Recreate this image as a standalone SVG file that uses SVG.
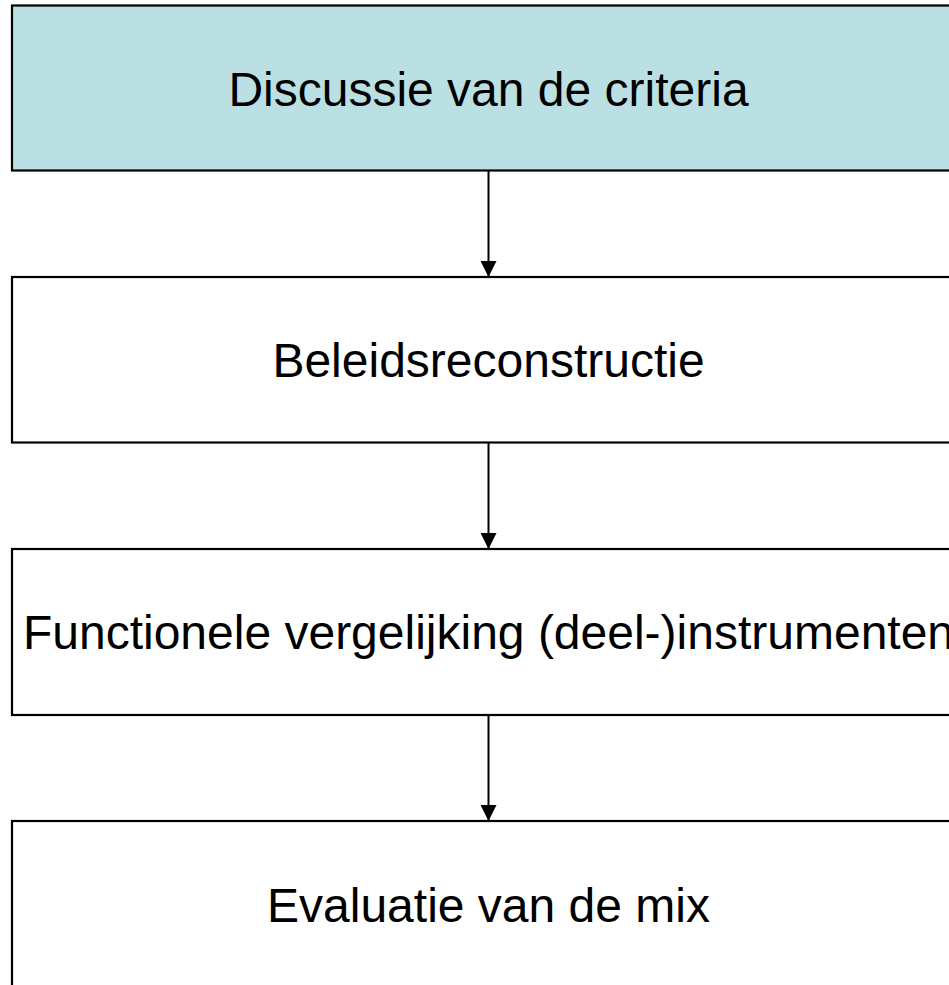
<svg xmlns="http://www.w3.org/2000/svg" width="949" height="985" viewBox="0 0 949 985">
  <style>
    .box { fill: #ffffff; stroke: #000000; stroke-width: 2.2; }
    .hl { fill: #BAE0E3; }
    .lbl { font-family: "Liberation Sans", Arial, sans-serif; font-size: 48px; fill: #000000; text-anchor: middle; }
    .conn { stroke: #000000; stroke-width: 2; fill: none; marker-end: url(#arr); }
  </style>
  <defs>
    <marker id="arr" viewBox="0 0 16 16" refX="16" refY="8" markerWidth="16" markerHeight="16" markerUnits="userSpaceOnUse" orient="auto">
      <path d="M0,0 L16,8 L0,16 Z" fill="#000000"/>
    </marker>
  </defs>
  <rect width="949" height="985" fill="#ffffff"/>
  <g id="node-criteria">
    <rect class="box hl" x="12" y="5.5" width="955" height="165"/>
    <text class="lbl" x="488.5" y="106">Discussie van de criteria</text>
  </g>
  <g id="node-beleid">
    <rect class="box" x="12" y="277" width="955" height="165.5"/>
    <text class="lbl" x="488.5" y="377">Beleidsreconstructie</text>
  </g>
  <g id="node-functioneel">
    <rect class="box" x="12" y="549" width="955" height="166"/>
    <text class="lbl" x="488.5" y="649">Functionele vergelijking (deel-)instrumenten</text>
  </g>
  <g id="node-evaluatie">
    <rect class="box" x="12" y="821" width="955" height="170"/>
    <text class="lbl" x="488.5" y="922">Evaluatie van de mix</text>
  </g>
  <g id="connectors">
    <line class="conn" x1="488.5" y1="171" x2="488.5" y2="277"/>
    <line class="conn" x1="488.5" y1="443" x2="488.5" y2="549"/>
    <line class="conn" x1="488.5" y1="715" x2="488.5" y2="821"/>
  </g>
</svg>
